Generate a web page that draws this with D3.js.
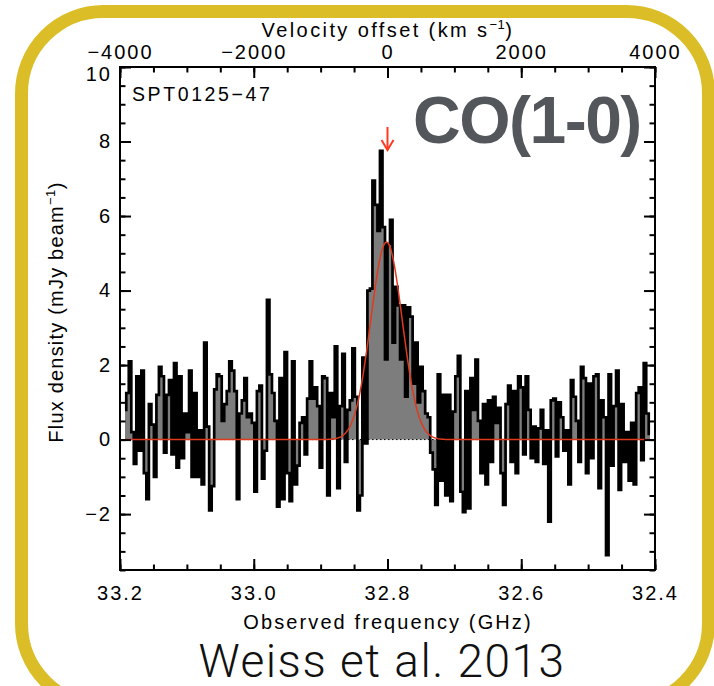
<!DOCTYPE html>
<html>
<head>
<meta charset="utf-8">
<script src="https://cdn.jsdelivr.net/npm/d3@7/dist/d3.min.js"></script>
<style>
  html, body { margin: 0; padding: 0; background: #ffffff; }
  svg { display: block; }
  .lbl { font-family: "Liberation Sans", Arial, Helvetica, sans-serif; fill: #000; }
</style>
</head>
<body>
<svg id="chart" width="714" height="686"></svg>
<script>
// Spectrum of SPT0125-47 around the redshifted CO(1-0) line (mJy/beam per channel)
const fluxDensity = [
  0.8, 1.25, 2.1, 0.2, -0.65, 1.7, -0.3, 1.85, -0.9, -1.6,
  0.95, 0.4, -1.0, 1.2, 1.95, 1.7, -0.35, 1.2, 1.6, -0.4,
  2.05, -0.75, 1.7, -0.5, 0.7, 0.2, 1.85, -1.0, 1.25, -1.0,
  0.25, -1.2, 2.6, 0.35, -1.9, -1.25, 1.35, 1.75, 1.7, 0.5,
  0.95, 1.3, 2.1, 1.85, 1.3, -1.6, 0.7, 1.05, 1.65, 0.6,
  0.7, 0.45, -1.4, 1.3, 1.45, -1.05, -0.3, 3.75, 1.75, 1.25,
  0.5, -1.8, 1.65, -1.6, 2.35, -0.9, -1.65, 2.1, -1.2, -0.7,
  0.45, 0.6, -0.4, 1.1, 2.1, 1.1, 1.4, 0.9, -0.75, 1.7,
  1.65, -1.5, 1.25, 0.6, 2.5, -1.3, 0.9, 2.3, -0.6, 0.8,
  1.05, 2.45, 1.15, -1.9, -1.5, 2.2, -0.1, 4.0, 4.05, 6.95,
  6.3, 5.6, 7.75, 5.7, 2.15, 5.25, 5.9, 2.6, 4.1, 3.6,
  2.15, 3.6, 1.15, 3.55, 3.3, 1.5, 2.6, 1.0, 1.95, 1.3,
  0.7, 0.6, -0.35, -0.8, -1.75, 1.75, -1.1, 1.2, -1.5, 1.2,
  -1.65, 0.75, 1.7, 2.25, -1.4, -1.95, 1.3, -1.85, 1.65, 0.8,
  2.15, 0.5, -0.9, 0.95, -1.2, 1.05, -0.6, 1.15, 0.45, 0.85,
  -0.9, -1.75, 0.95, 1.45, -0.6, 1.3, -0.9, 1.7, 1.4, -0.4,
  1.7, 0.8, -0.5, 0.35, -0.6, 0.3, 0.8, -0.65, 0.25, -2.2,
  1.05, 1.1, -0.45, 1.0, 0.6, -0.3, 0.25, -1.2, 1.6, 1.15,
  0.5, -0.6, 1.95, 1.65, -0.9, 1.5, -0.5, 1.7, 1.75, -1.3,
  1.05, 0.6, -3.1, 1.75, -0.7, 0.9, 1.85, -1.35, 0.95, -0.6,
  0.2, -1.1, 0.45, -1.2, 1.25, 1.4, -0.55, 2.05, 0.7, 0.15
];
// Channel grid (GHz): first channel centre and channel spacing, frequency decreasing
const firstChannelGHz = [33.1925];
const channelWidthGHz = [0.003756];

// Gaussian fit to the line: peak (mJy), centre (GHz), sigma (GHz)
const fitPeak = [5.3];
const fitCentreGHz = [32.8015];
const fitSigmaGHz = [0.02348];

// Axis ranges and tick labels
const freqDomain = [33.2, 32.4];
const freqTicks = [33.2, 33.0, 32.8, 32.6, 32.4];
const freqTickLabels = ["33.2", "33.0", "32.8", "32.6", "32.4"];
const velDomain = [-4000, 4000];
const velTicks = [-4000, -2000, 0, 2000, 4000];
const velTickLabels = ["\u22124000", "\u22122000", "0", "2000", "4000"];
const fluxDomain = [-3.5, 10];
const fluxTicks = [-2, 0, 2, 4, 6, 8, 10];
const fluxTickLabels = ["\u22122", "0", "2", "4", "6", "8", "10"];
const arrowFreqGHz = [32.8];

const svg = d3.select("#chart");
const W = 714, H = 686;
svg.append("rect").attr("width", W).attr("height", H).attr("fill", "#ffffff");

// Rounded gold frame (runs past the lower edge of the page)
svg.append("rect")
  .attr("x", 21.5).attr("y", 11.5)
  .attr("width", 687).attr("height", 694)
  .attr("rx", 82).attr("ry", 82)
  .attr("fill", "none")
  .attr("stroke", "#dbbe27")
  .attr("stroke-width", 13);

const plot = { left: 120, right: 655, top: 67, bottom: 570 };
const x = d3.scaleLinear().domain(freqDomain).range([plot.left, plot.right]);
const xv = d3.scaleLinear().domain(velDomain).range([plot.left, plot.right]);
const y = d3.scaleLinear().domain(fluxDomain).range([plot.bottom, plot.top]);

const channels = fluxDensity.map((v, i) => ({
  f: firstChannelGHz[0] - i * channelWidthGHz[0],
  v: v
}));

const g = svg.append("g");

// Filled histogram
g.append("path")
  .datum(channels)
  .attr("d", d3.area().curve(d3.curveStep)
    .x(d => x(d.f)).y0(y(0)).y1(d => y(d.v)))
  .attr("fill", "#7d7d7d");

// Zero level
g.append("line")
  .attr("x1", plot.left).attr("x2", plot.right)
  .attr("y1", y(0)).attr("y2", y(0))
  .attr("stroke", "#000").attr("stroke-width", 1)
  .attr("stroke-dasharray", "1.5,2.5");

// Histogram outline
g.append("path")
  .datum(channels)
  .attr("d", d3.line().curve(d3.curveStep).x(d => x(d.f)).y(d => y(d.v)))
  .attr("fill", "none")
  .attr("stroke", "#000")
  .attr("stroke-width", 2.7)
  .attr("stroke-linejoin", "miter");

// Gaussian model, evaluated along the channel grid span
const fitSamples = d3.range(0, 601).map(k => {
  const f = channels[0].f + (channels[channels.length - 1].f - channels[0].f) * k / 600;
  const dz = (f - fitCentreGHz[0]) / fitSigmaGHz[0];
  return { f: f, v: fitPeak[0] * Math.exp(-0.5 * dz * dz) };
});
g.append("path")
  .datum(fitSamples)
  .attr("d", d3.line().x(d => x(d.f)).y(d => y(d.v)))
  .attr("fill", "none")
  .attr("stroke", "#e0391c")
  .attr("stroke-width", 1.5);

// Red arrow marking the line
const ax = x(arrowFreqGHz[0]);
const arrow = svg.append("g").attr("stroke", "#ff3b22").attr("stroke-width", 2).attr("fill", "none");
arrow.append("line").attr("x1", ax).attr("x2", ax).attr("y1", 127).attr("y2", 150);
arrow.append("path").attr("d", `M${ax - 6},${140} L${ax},${150} L${ax + 6},${140}`);

// Axes with inward ticks
function styleAxis(sel) {
  sel.select(".domain").remove();
  sel.selectAll(".tick line").attr("stroke", "#000").attr("stroke-width", 2);
  sel.selectAll(".tick text")
    .attr("class", "lbl")
    .attr("font-size", 20)
    .attr("letter-spacing", "2px")
    .attr("fill", "#000");
}
const major = 11, minor = 5.5;

// bottom: frequency
const bottomMinor = d3.range(33.2, 32.399, -0.05).map(v => +v.toFixed(2));
svg.append("g").attr("transform", `translate(0,${plot.bottom})`)
  .call(d3.axisBottom(x).tickValues(bottomMinor).tickSizeInner(-minor).tickSizeOuter(0).tickFormat(""))
  .call(styleAxis);
svg.append("g").attr("transform", `translate(0,${plot.bottom})`)
  .call(d3.axisBottom(x).tickValues(freqTicks).tickSizeInner(-major).tickSizeOuter(0)
    .tickPadding(16).tickFormat((d, i) => freqTickLabels[i]))
  .attr("font-family", null).attr("font-size", null)
  .call(styleAxis);

// top: velocity
const topMinor = d3.range(-4000, 4001, 500);
svg.append("g").attr("transform", `translate(0,${plot.top})`)
  .call(d3.axisTop(xv).tickValues(topMinor).tickSizeInner(-minor).tickSizeOuter(0).tickFormat(""))
  .call(styleAxis);
svg.append("g").attr("transform", `translate(0,${plot.top})`)
  .call(d3.axisTop(xv).tickValues(velTicks).tickSizeInner(-major).tickSizeOuter(0)
    .tickPadding(8).tickFormat((d, i) => velTickLabels[i]))
  .attr("font-family", null).attr("font-size", null)
  .call(styleAxis);

// left: flux density
const leftMinor = d3.range(-3.5, 10.01, 0.5);
svg.append("g").attr("transform", `translate(${plot.left},0)`)
  .call(d3.axisLeft(y).tickValues(leftMinor).tickSizeInner(-minor).tickSizeOuter(0).tickFormat(""))
  .call(styleAxis);
const leftAxis = svg.append("g").attr("transform", `translate(${plot.left},0)`)
  .call(d3.axisLeft(y).tickValues(fluxTicks).tickSizeInner(-major).tickSizeOuter(0)
    .tickPadding(8).tickFormat((d, i) => fluxTickLabels[i]))
  .attr("font-family", null).attr("font-size", null)
  .call(styleAxis);
// the top label sits just below the frame corner
leftAxis.selectAll(".tick text").filter(d => d === 10).attr("dy", "0.68em");

// right: mirrored ticks
svg.append("g").attr("transform", `translate(${plot.right},0)`)
  .call(d3.axisRight(y).tickValues(leftMinor).tickSizeInner(-minor).tickSizeOuter(0).tickFormat(""))
  .call(styleAxis);
svg.append("g").attr("transform", `translate(${plot.right},0)`)
  .call(d3.axisRight(y).tickValues(fluxTicks).tickSizeInner(-major).tickSizeOuter(0).tickFormat(""))
  .call(styleAxis);

// Plot frame
svg.append("rect")
  .attr("x", plot.left).attr("y", plot.top)
  .attr("width", plot.right - plot.left).attr("height", plot.bottom - plot.top)
  .attr("fill", "none").attr("stroke", "#000").attr("stroke-width", 2);

// Axis titles
const topTitle = svg.append("text").attr("class", "lbl")
  .attr("x", 388).attr("y", 37).attr("text-anchor", "middle")
  .attr("font-size", 20).attr("letter-spacing", "2.4px");
topTitle.append("tspan").text("Velocity offset (km s");
topTitle.append("tspan").attr("dy", -8).attr("font-size", 13).attr("letter-spacing", "0.5px").text("\u22121");
topTitle.append("tspan").attr("dy", 8).text(")");

svg.append("text").attr("class", "lbl")
  .attr("x", 388).attr("y", 629).attr("text-anchor", "middle")
  .attr("font-size", 20).attr("letter-spacing", "2.1px")
  .text("Observed frequency (GHz)");

const yTitle = svg.append("text").attr("class", "lbl")
  .attr("transform", "translate(63,312) rotate(-90)")
  .attr("text-anchor", "middle")
  .attr("font-size", 20).attr("letter-spacing", "1.2px");
yTitle.append("tspan").text("Flux density (mJy beam");
yTitle.append("tspan").attr("dy", -8).attr("font-size", 13).attr("letter-spacing", "0.5px").text("\u22121");
yTitle.append("tspan").attr("dy", 8).text(")");

// Source name
svg.append("text").attr("class", "lbl")
  .attr("x", 132).attr("y", 101)
  .attr("font-size", 19.5).attr("letter-spacing", "2.6px")
  .text("SPT0125\u221247");

// Transition label
svg.append("text")
  .attr("x", 413).attr("y", 143)
  .attr("font-family", "'Liberation Sans', Arial, Helvetica, sans-serif")
  .attr("font-weight", "bold")
  .attr("font-size", 66)
  .attr("letter-spacing", "-1.5px")
  .attr("fill", "#53565b")
  .text("CO(1-0)");

// Reference
svg.append("text")
  .attr("x", 382).attr("y", 677).attr("text-anchor", "middle")
  .attr("font-family", "Roboto, 'Liberation Sans', sans-serif")
  .attr("font-weight", 300)
  .attr("font-size", 46)
  .attr("letter-spacing", "1.5px")
  .attr("fill", "#111")
  .text("Weiss et al. 2013");
</script>
</body>
</html>
